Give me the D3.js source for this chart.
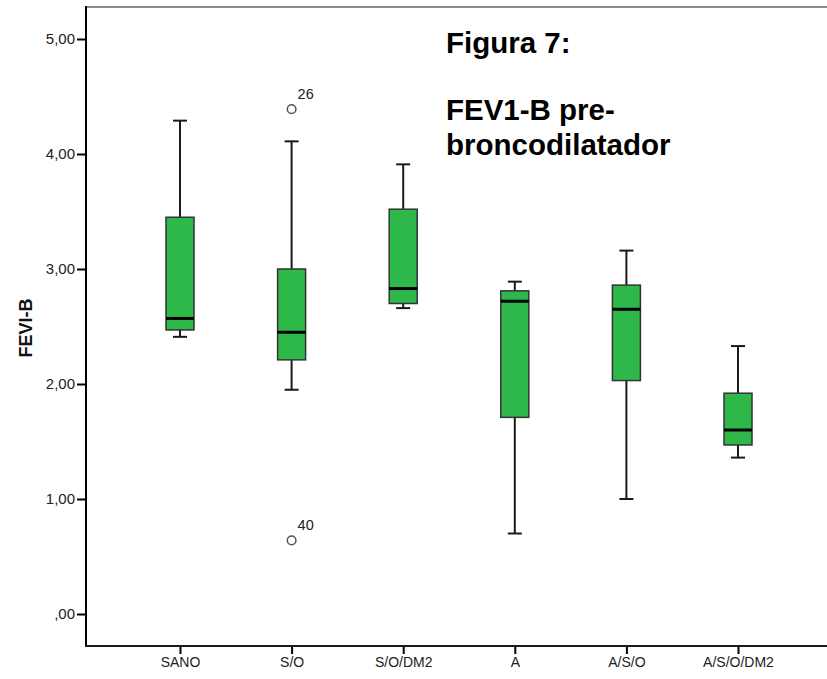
<!DOCTYPE html>
<html><head><meta charset="utf-8">
<script src="https://cdn.jsdelivr.net/npm/d3@7"></script>
<style>body{margin:0;background:#fff}svg{display:block}</style>
</head><body>
<script>
const categories = ["SANO","S/O","S/O/DM2","A","A/S/O","A/S/O/DM2"];
const whiskerLow  = [2.41, 1.95, 2.66, 0.70, 1.00, 1.36];
const q1          = [2.47, 2.21, 2.70, 1.71, 2.03, 1.47];
const median      = [2.57, 2.45, 2.83, 2.72, 2.65, 1.60];
const q3          = [3.45, 3.00, 3.52, 2.81, 2.86, 1.92];
const whiskerHigh = [4.29, 4.11, 3.91, 2.89, 3.16, 2.33];
const outlierCat  = ["S/O","S/O"];
const outlierVal  = [4.39, 0.64];
const outlierLbl  = ["26","40"];
const yTicks = [0,1,2,3,4,5];
const titleLines = ["Figura 7:", "FEV1-B pre-", "broncodilatador"];
const yTitle = "FEVI-B";

(function(){
const W = 827, H = 679;
const svg = d3.select("body").append("svg").attr("width", W).attr("height", H);
const x = d3.scalePoint().domain(categories).range([180, 738]);
const y = d3.scaleLinear().domain([0, 5]).range([614, 39]);
const pLeft = 86, pTop = 7, pBottom = 646, pRight = 840;
const font = "'Liberation Sans', Arial, sans-serif";

svg.append("line").attr("x1", pLeft).attr("x2", pRight).attr("y1", pTop).attr("y2", pTop)
  .attr("stroke", "#8a8a8a").attr("stroke-width", 2);

const boxW = 28, capW = 14;
const data = categories.map((c, i) => ({c, lo: whiskerLow[i], q1: q1[i], med: median[i], q3: q3[i], hi: whiskerHigh[i]}));
const bx = svg.append("g").selectAll("g.box").data(data).join("g").attr("class", "box");
bx.append("line").attr("x1", d => x(d.c)).attr("x2", d => x(d.c)).attr("y1", d => y(d.hi)).attr("y2", d => y(d.q3))
  .attr("stroke", "#1a1a1a").attr("stroke-width", 2);
bx.append("line").attr("x1", d => x(d.c)).attr("x2", d => x(d.c)).attr("y1", d => y(d.q1)).attr("y2", d => y(d.lo))
  .attr("stroke", "#1a1a1a").attr("stroke-width", 2);
bx.append("line").attr("x1", d => x(d.c) - capW/2).attr("x2", d => x(d.c) + capW/2).attr("y1", d => y(d.hi)).attr("y2", d => y(d.hi))
  .attr("stroke", "#1a1a1a").attr("stroke-width", 2);
bx.append("line").attr("x1", d => x(d.c) - capW/2).attr("x2", d => x(d.c) + capW/2).attr("y1", d => y(d.lo)).attr("y2", d => y(d.lo))
  .attr("stroke", "#1a1a1a").attr("stroke-width", 2);
bx.append("rect").attr("x", d => x(d.c) - boxW/2).attr("width", boxW)
  .attr("y", d => y(d.q3)).attr("height", d => y(d.q1) - y(d.q3))
  .attr("fill", "#2eb84a").attr("stroke", "#333").attr("stroke-width", 1.5);
bx.append("line").attr("x1", d => x(d.c) - boxW/2).attr("x2", d => x(d.c) + boxW/2).attr("y1", d => y(d.med)).attr("y2", d => y(d.med))
  .attr("stroke", "#000").attr("stroke-width", 3);

outlierVal.forEach((v, i) => {
  const cx = x(outlierCat[i]), cy = y(v);
  svg.append("circle").attr("cx", cx).attr("cy", cy).attr("r", 4.3)
    .attr("fill", "#fff").attr("stroke", "#555").attr("stroke-width", 1.5);
  svg.append("text").attr("x", cx + 6).attr("y", cy - 10).text(outlierLbl[i])
    .attr("font-family", font).attr("font-size", 14.5).attr("fill", "#222");
});

const yAxis = d3.axisLeft(y).tickValues(yTicks).tickSize(9).tickPadding(2)
  .tickFormat(d => d === 0 ? ",00" : d3.format(".2f")(d).replace(".", ","));
const ya = svg.append("g").attr("transform", `translate(${pLeft},0)`).call(yAxis);
ya.select(".domain").remove();
ya.selectAll(".tick line").attr("stroke", "#000").attr("stroke-width", 2);
ya.selectAll(".tick text").attr("font-family", font).attr("font-size", 15).attr("fill", "#222");
svg.append("line").attr("x1", pLeft).attr("x2", pLeft).attr("y1", pTop - 1).attr("y2", pBottom + 1)
  .attr("stroke", "#000").attr("stroke-width", 2);

const xAxis = d3.axisBottom(x).tickSize(8).tickPadding(3);
const xa = svg.append("g").attr("transform", `translate(0,${pBottom})`).call(xAxis);
xa.select(".domain").remove();
xa.selectAll(".tick line").attr("stroke", "#000").attr("stroke-width", 2);
xa.selectAll(".tick text").attr("font-family", font).attr("font-size", 14).attr("fill", "#222");
svg.append("line").attr("x1", pLeft - 1).attr("x2", pRight).attr("y1", pBottom).attr("y2", pBottom)
  .attr("stroke", "#1a1a1a").attr("stroke-width", 2);

svg.append("text").attr("transform", "translate(32,328) rotate(-90)").attr("text-anchor", "middle")
  .attr("font-family", font).attr("font-weight", "bold").attr("font-size", 18).attr("fill", "#111").text(yTitle);

const tY = [53, 120, 155];
titleLines.forEach((t, i) => {
  svg.append("text").attr("x", 446).attr("y", tY[i]).text(t)
    .attr("font-family", font).attr("font-weight", "bold").attr("font-size", 29.5).attr("fill", "#000");
});
})();
</script>
</body></html>
